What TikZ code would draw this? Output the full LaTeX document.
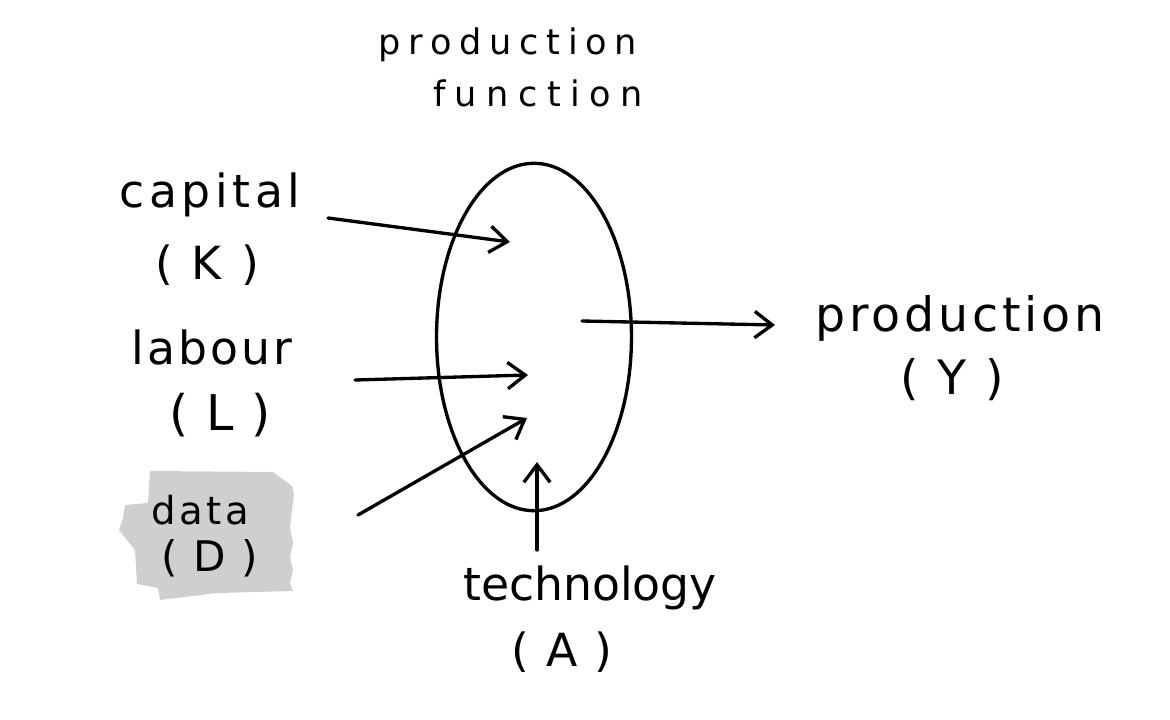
\documentclass[tikz,border=0pt]{standalone}
\usepackage{fontspec}
\setmainfont{DejaVu Sans}
\usetikzlibrary{arrows.meta,shapes.geometric}
\newcommand{\hw}[3]{{\fontsize{#1}{#1}\selectfont\addfontfeature{LetterSpace=#2}#3}}
\begin{document}
\begin{tikzpicture}[x=0.02cm,y=-0.02cm,
  ink/.style={line width=1.9pt,black,line cap=round,line join=round},
  arr/.style={ink,-{Straight Barb[length=10pt,width=15pt,line width=1.9pt]}},
  lbl/.style={inner sep=0pt,anchor=center,text=black}]
\useasboundingbox (0,0) rectangle (1170,720);
% grey blob behind data
\fill[gray!38] (150,471) -- (273,472) -- (292,486) -- (294,493) -- (290,527) -- (293,543) -- (290,557) -- (293,570) -- (290,583) -- (293,591) -- (217,593) -- (160,600) -- (158,588) -- (137,584) -- (135,550) -- (119,530) -- (123,518) -- (125,505) -- (148,503) -- cycle;
% production function ellipse
\node[ink,draw,ellipse,minimum width=3.9cm,minimum height=6.95cm,inner sep=0pt] (pf) at (534,337) {};
% labels
\node[lbl] (t1) at (508,45) {\hw{20pt}{22}{production}};
\node[lbl] (t2) at (538,93) {\hw{20pt}{27}{function}};
\node[lbl] (cap) at (210,195) {\hw{26pt}{10}{capital}};
\node[lbl] (capK) at (207,265) {\hw{26pt}{10}{( K )}};
\node[lbl] (lab) at (212,347) {\hw{26pt}{7}{labour}};
\node[lbl] (labL) at (220,415) {\hw{28pt}{5}{( L )}};
\node[lbl] (dat) at (200,510) {\hw{22pt}{9}{data}};
\node[lbl] (datD) at (210,558) {\hw{24pt}{5}{( D )}};
\node[lbl] (prod) at (960,318) {\hw{27pt}{8}{production}};
\node[lbl] (prodY) at (952,380) {\hw{27pt}{8}{( Y )}};
\node[lbl] (tech) at (590,588) {\hw{26pt}{0}{technology}};
\node[lbl] (techA) at (562,652) {\hw{26pt}{5}{( A )}};
% arrow end points
\coordinate (kS) at (328,218); \coordinate (kE) at (510,242);
\coordinate (lS) at (355,380); \coordinate (lE) at (528,375);
\coordinate (dS) at (358,515); \coordinate (dE) at (527,418);
\coordinate (aS) at (537,550); \coordinate (aE) at (537,462);
\coordinate (yS) at (582,321); \coordinate (yE) at (775,325);
\draw[arr] (kS) -- (kE);
\draw[arr] (lS) -- (lE);
\draw[arr] (dS) -- (dE);
\draw[arr] (aS) -- (aE);
\draw[arr] (yS) -- (yE);
\end{tikzpicture}
\end{document}
